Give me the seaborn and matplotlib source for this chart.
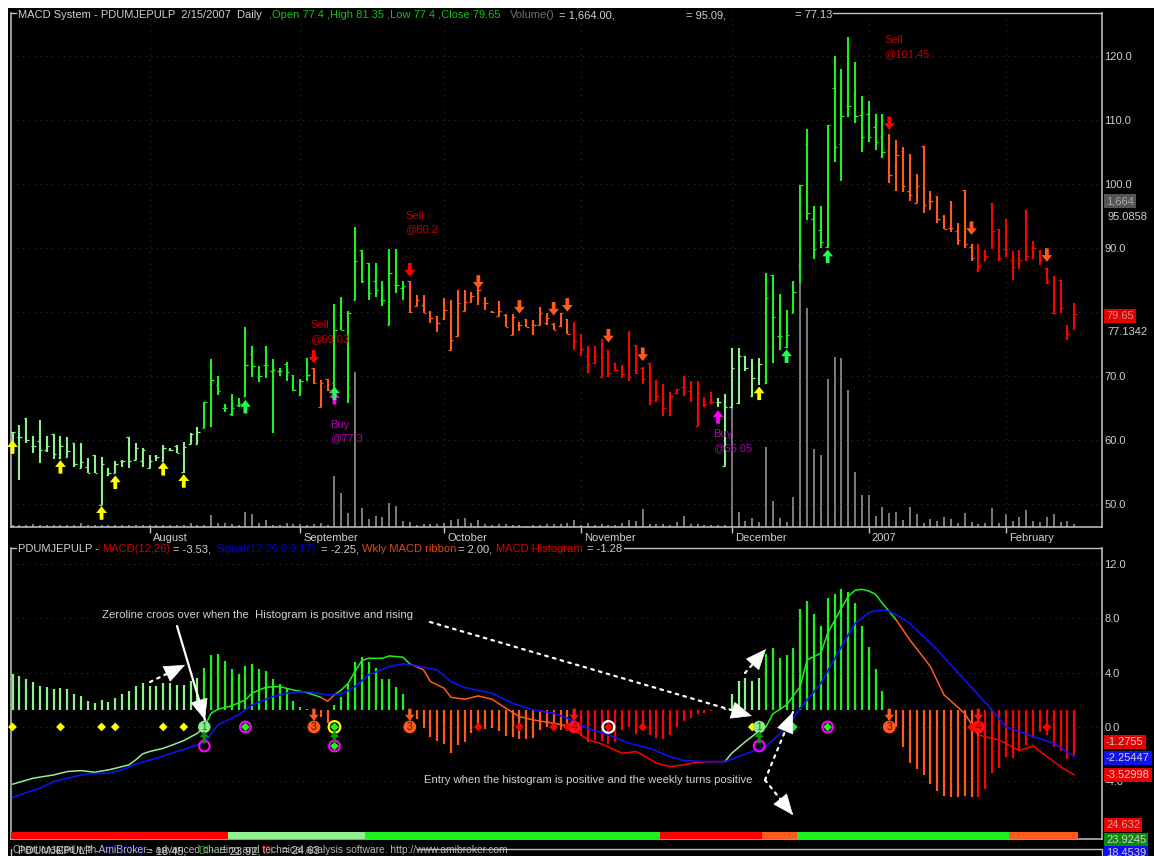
import numpy as np
import pandas as pd
import matplotlib
matplotlib.use("Agg")
import matplotlib.pyplot as plt
import seaborn as sns
from matplotlib.lines import Line2D
from matplotlib.patches import Rectangle
from matplotlib.path import Path

W, H = 1154, 856

# price bars, one per trading day
highs = [61.3,62.3,63.5,60.6,63.2,60.7,60.9,60.6,60.5,59.5,
         59.6,57.2,57.7,57.3,55.7,56.7,56.9,60.4,59.6,58.7,
         57.7,57.7,59.3,58.7,59.2,59.7,61.1,62.1,66.0,72.7,
         70.0,65.6,67.2,66.5,77.6,74.7,71.5,74.7,72.7,71.3,
         72.2,70.1,69.5,72.8,71.2,69.3,69.6,81.3,82.4,80.2,
         93.3,89.7,87.7,87.7,84.8,89.8,89.8,84.8,84.9,82.6,
         82.6,80.1,79.4,82.2,81.8,83.5,83.5,83.2,84.3,82.4,
         80.2,81.7,79.7,79.7,78.5,78.9,78.8,80.8,79.8,78.3,
         79.8,78.9,78.5,76.6,74.7,74.7,75.8,74.1,72.1,71.7,
         77.1,74.8,71.4,72.0,69.4,68.8,67.5,68.0,70.0,69.2,
         69.2,66.7,67.5,66.5,67.2,74.3,74.3,73.2,72.7,72.8,
         86.1,85.8,82.8,80.3,84.8,99.8,108.6,96.5,96.6,109.2,
         120.0,118.0,122.9,119.0,113.7,112.9,111.0,111.0,107.8,106.8,
         105.8,104.7,101.5,106.0,98.9,98.2,95.1,97.3,93.9,99.0,
         90.7,90.7,89.7,97.0,92.9,94.5,89.6,89.7,96.0,91.1,
         89.7,86.8,85.7,85.0,77.9,81.35]
lows = [57.9,53.8,59.6,58.0,56.4,58.2,57.0,57.1,57.3,55.8,
        55.6,54.8,54.9,49.9,54.4,54.8,55.8,55.7,56.9,55.8,
        55.6,56.8,56.7,58.3,57.9,54.9,59.4,59.4,61.9,62.1,
        67.0,64.4,63.8,65.2,66.7,69.9,69.0,69.7,61.1,70.0,
        69.2,67.7,67.0,69.2,68.8,65.1,67.7,68.1,77.2,65.8,
        81.8,84.5,81.8,82.3,80.9,78.0,83.0,81.9,79.9,80.9,
        79.9,78.3,76.8,78.8,74.1,76.1,80.1,81.4,81.1,80.3,
        79.9,79.3,77.6,76.4,77.0,77.6,76.4,78.0,78.0,77.2,
        77.7,76.5,74.0,73.3,70.5,72.1,69.8,69.9,70.8,69.9,
        69.2,70.3,68.8,65.5,66.0,63.8,63.8,67.2,66.8,66.0,
        62.2,65.2,65.7,65.2,55.9,65.0,65.7,70.8,66.7,68.6,
        68.8,72.0,74.1,74.4,79.9,84.5,94.3,88.3,90.0,90.0,
        103.4,100.5,110.5,109.5,105.0,106.5,105.3,104.0,100.2,98.9,
        98.7,97.3,97.0,95.5,96.0,93.9,92.9,92.5,90.5,90.0,
        87.9,86.3,87.9,89.9,87.9,88.6,85.0,86.7,87.9,88.3,
        87.3,84.4,79.9,79.8,75.7,77.4]
opens = [61.3,60.5,63.5,59.1,59.8,58.4,60.9,57.2,57.4,59.5,
         55.7,55.8,57.7,49.9,54.6,54.9,56.8,60.4,56.9,56.8,
         55.7,57.5,56.8,58.5,59.1,55.0,59.4,59.4,61.9,68.8,
         68.6,65.0,64.0,65.4,66.8,73.4,69.9,71.7,70.8,70.8,
         71.8,70.1,67.1,72.8,71.2,65.2,69.5,68.9,79.6,79.8,
         81.9,89.7,87.7,84.9,81.9,78.0,84.2,83.8,84.9,81.0,
         81.1,80.0,79.4,78.9,74.1,76.2,80.2,81.5,83.5,81.4,
         80.2,79.4,79.6,76.4,78.0,78.9,78.0,78.0,78.3,78.1,
         77.8,78.9,76.7,73.3,73.2,72.1,69.9,74.1,72.0,69.9,
         69.8,74.8,71.3,72.0,66.2,66.9,63.9,67.3,68.3,67.6,
         62.2,66.1,66.0,65.9,56.0,65.1,65.8,73.1,66.8,69.7,
         68.9,85.8,76.3,74.6,79.9,87.3,106.3,94.6,92.8,90.1,
         115.0,106.2,112.2,114.0,110.8,111.0,108.9,107.4,105.3,102.8,
         105.2,98.9,97.1,106.0,97.3,98.2,95.0,93.2,92.7,99.0,
         90.1,86.5,88.0,97.0,92.9,89.8,88.1,89.7,96.0,90.0,
         89.6,86.8,79.9,85.0,77.9,77.4]
closes = [61.2,60.5,60.0,59.1,58.4,59.0,57.8,59.0,58.3,56.3,
          56.5,54.9,54.9,56.2,54.8,56.3,56.8,56.8,58.7,58.4,
          56.8,57.4,58.8,58.5,57.9,58.9,60.9,61.3,66.0,69.3,
          67.6,65.0,65.0,65.6,71.7,71.6,70.0,71.7,71.0,70.8,
          70.7,67.8,69.2,70.2,68.9,68.9,67.8,77.2,77.2,79.8,
          88.0,84.9,83.0,83.5,81.9,86.1,84.2,84.0,80.0,81.9,
          79.9,79.0,78.3,80.3,75.7,81.4,81.6,82.5,83.5,81.4,
          80.0,80.1,77.7,79.2,78.0,77.7,78.0,79.9,79.0,77.2,
          79.8,76.6,75.4,74.2,71.9,73.1,72.9,70.4,70.9,70.3,
          69.8,70.4,69.6,66.2,66.9,65.0,66.8,68.0,68.3,66.5,
          67.3,65.6,66.0,65.9,65.2,71.3,73.2,71.2,69.7,71.8,
          82.2,79.2,76.3,76.4,83.1,99.8,95.4,89.8,91.0,109.2,
          105.8,110.6,112.2,110.6,107.3,107.4,106.5,105.0,101.4,104.5,
          99.7,98.3,99.7,96.7,97.3,94.6,93.0,93.2,91.2,90.6,
          88.5,87.2,88.7,92.6,88.5,89.9,87.0,88.1,88.7,90.0,
          88.1,84.7,79.9,80.7,76.5,79.65]
volume = [1,1,1,2,1,1,1,1,1,1,3,1,1,1,1,1,1,1,1,1,1,1,1,1,1,1,3,1,1,
          11,3,3,2,1,14,12,3,6,1,1,
          3,2,2,1,2,3,1,50,33,13,154,18,7,10,9,23,20,5,4,
          1,2,2,2,3,6,7,8,3,6,2,1,2,2,1,1,0,1,1,2,2,
          2,3,6,1,3,1,2,1,1,3,6,5,17,2,2,2,1,4,10,2,2,1,1,1,1,
          119,14,5,8,4,79,25,8,4,29,257,218,77,71,147,169,168,136,54,31,
          31,10,19,13,14,6,19,12,3,7,5,9,7,3,13,4,2,3,18,3,12,5,9,16,5,
          4,9,12,4,5,1.7]
histogram = [1.03,.97,.89,.8,.69,.66,.6,.63,.6,.46,.4,.26,.2,.29,.23,.34,.46,.54,.69,.77,
             .69,.69,.77,.77,.71,.71,.83,.91,1.2,1.57,1.6,1.4,1.17,1.03,1.26,1.31,1.17,1.11,.89,.74,
             .6,.26,.09,.03,-.29,-.2,-.37,.14,.37,.74,1.37,1.51,1.37,1.2,.89,.89,.66,.46,
             -.29,-.26,-.51,-.77,-.89,-.97,-1.23,-1.0,-.91,-.66,-.46,-.54,-.51,-.6,-.74,-.77,-.83,-.83,-.8,
             -.57,-.49,-.57,-.57,-.51,-.57,-.74,-.91,-.86,-.89,-.97,-.91,-.57,-.49,-.69,-.54,-.71,-.8,-.83,
             -.71,-.49,-.31,-.23,-.11,-.09,-.03,0,.03,.46,.83,.91,.83,.91,1.6,1.77,1.49,1.57,1.77,
             2.89,3.11,2.74,2.4,3.2,3.31,3.46,3.37,3.06,2.4,1.8,1.17,.54,
             -.29,-.49,-1.06,-1.51,-1.69,-1.86,-2.11,-2.31,-2.46,-2.49,-2.49,-2.46,-2.49,-2.49,-2.26,
             -1.8,-1.66,-1.34,-1.37,-1.17,-1.0,-.8,-.63,-.71,-1.06,-1.17,-1.4,-1.28]

# the two MACD lines, read at the bars named in the *_bar lists
macd_bar = [0,3,6,8,10,12,14,15,17,18,19,20,22,24,25,27,28,29,30,32,34,35,37,39,41,43,45,46,47,48,
            49,50,51,52,54,55,57,58,60,61,63,64,66,68,70,72,74,76,79,81,82,84,86,89,91,92,94,96,98,100,
            102,104,105,107,109,110,111,113,115,116,118,119,121,122,123,124,125,126,127,129,131,134,136,139,141,144,147,149,151,153,155]
macd_val = [-4.21,-3.77,-3.53,-3.28,-3.21,-3.33,-3.16,-3.04,-2.79,-2.42,-1.98,-1.81,-1.57,-1.2,-1.0,-.46,0,1.01,1.3,1.55,
            1.99,2.5,2.92,2.97,2.72,2.53,2.18,1.89,2.36,2.72,3.21,4.07,4.88,5.05,5.05,5.22,5.13,4.64,4.2,3.34,
            2.85,2.18,2.04,2.28,2.04,1.38,.76,.52,.27,.08,-.22,-.95,-1.25,-1.93,-1.81,-2.06,-2.67,-2.91,-2.79,-2.6,
            -2.55,-2.55,-1.93,-1.08,-.3,.02,.96,1.62,2.97,4.93,5.42,6.89,8.73,9.6,10.05,10.12,10.0,9.75,9.09,7.87,
            6.4,4.44,2.35,1.0,-.59,-.96,-1.74,-1.4,-2.18,-2.92,-3.53]
signal_bar = [0,2,4,6,9,11,14,16,18,21,24,28,30,33,35,38,40,43,46,48,50,52,55,57,59,62,64,66,70,73,76,79,81,84,87,
              90,93,96,98,101,104,110,113,115,118,121,123,125,126,127,128,129,131,135,139,143,145,149,152,155]
signal_val = [-5.19,-4.83,-4.51,-4.02,-3.65,-3.45,-3.4,-3.16,-2.72,-2.3,-1.81,-1.15,.15,.89,1.62,2.23,2.48,2.6,2.36,2.4,
              2.97,3.83,4.44,4.64,4.49,4.19,3.34,2.9,2.48,1.74,1.25,1.01,.64,-.1,-.59,-1.2,-1.57,-2.18,-2.47,-2.55,
              -2.55,-1.44,-.02,1.38,3.21,5.9,7.62,8.4,8.55,8.6,8.5,8.25,7.62,5.66,3.46,1.25,.02,-.71,-1.2,-2.18]

# colour regimes as (colour name, number of bars)
bar_regimes = [("light",28),("green",16),("orange",3),("green",11),("orange",24),("red",21),
               ("light",7),("green",18),("orange",13),("red",15)]
ribbon_regimes = [("red",32),("light",20),("green",43),("red",15),("orange",5),("green",31),("orange",10)]

month_bars = [20,42,63,83,105,125,145]
month_names = ["August","September","October","November","December","2007","February"]

price_ticks = [120,110,100,90,80,70,60,50]
price_tick_labels = ["120.0","110.0","100.0","90.0","","70.0","60.0","50.0"]
macd_ticks = [12,8,4,0,-4]
macd_tick_labels = ["12.0","8.0","4.0","0.0","-4.0"]

# signal arrows on the price pane
yellow_up_bar, yellow_up_price = [0,7,13,15,22,25,109], [58.9,55.8,48.6,53.4,55.5,53.6,67.3]
green_up_bar, green_up_price = [34,47,113,119], [65.2,67.3,73.1,88.7]
magenta_up_bar, magenta_up_price = [47,103], [66.6,63.6]
red_down_bar, red_down_price = [44,58,128], [73.0,86.6,109.5]
orange_down_bar, orange_down_price = [68,74,79,81,87,92,140,151], [84.7,80.8,80.5,81.1,76.3,73.4,93.1,88.9]

# markers on the MACD pane
yellow_dots = [0,7,13,15,22,25,108]
green_dots = [34,47,114,119]
red_dots = [68,74,79,81,87,92,140,151]
magenta_zero = [34,119]
magenta_low = [28,47,109]
entry_circles = [28,109]
yellow_ring = [47]
white_ring = [87]
exit3_bars = [44,58,128]
exit4_bars = [82,141]

COLORS = {"light":"#90f090","green":"#1ff01f","orange":"#ff5a1e","red":"#ff0000"}
FRAME = "#c4c4c4"
TEXT = "#d0d0d0"

def expand(regimes):
    out = []
    for name, n in regimes:
        out += [COLORS[name]] * n
    return out

bar_colors = expand(bar_regimes)
ribbon_colors = expand(ribbon_regimes)

df = pd.DataFrame({"open":opens,"high":highs,"low":lows,"close":closes,"volume":volume,
                   "hist":histogram,"color":bar_colors,"ribbon":ribbon_colors})
df["bar"] = df.index

sns.set_theme(style="dark")
plt.rcParams["font.family"] = "Liberation Sans"
plt.rcParams["font.size"] = 8

fig = plt.figure(figsize=(W/100, H/100), dpi=100, facecolor="white")
fig.add_artist(Rectangle((8/W,0),(W-8)/W,(H-8)/H,transform=fig.transFigure,fc="black",ec="none",zorder=-1))

def rect(x0, y0, x1, y1):
    return [x0/W, 1-y1/H, (x1-x0)/W, (y1-y0)/H]

def label(x, y, s, color=TEXT, **kw):
    kw.setdefault("fontsize", 8)
    return fig.text(x/W, 1-y/H, s, color=color, va="center", ha="left", **kw)

def box(x, y, s, bg, color=TEXT):
    return label(x, y, s, color, bbox=dict(fc=bg, ec="none", pad=1.6), zorder=6)

def rule(x0, y0, x1, y1, color=FRAME, lw=1.0):
    fig.add_artist(Line2D([x0/W,x1/W],[1-y0/H,1-y1/H],color=color,lw=lw,zorder=5))

BAR_XLIM = (-0.22, 159.05)
up = Path([(-.28,-1),(.28,-1),(.28,0),(.8,0),(0,1),(-.8,0),(-.28,0),(-.28,-1)], closed=True)
down = Path([(-.28,1),(.28,1),(.28,0),(.8,0),(0,-1),(-.8,0),(-.28,0),(-.28,1)], closed=True)

def style_pane(ax, ylim, ticks, tick_labels):
    ax.set_facecolor("none")
    ax.set_xlim(*BAR_XLIM)
    ax.set_ylim(*ylim)
    ax.yaxis.tick_right()
    ax.set_yticks(ticks, tick_labels)
    ax.set_xticks(month_bars, [""]*len(month_bars))
    ax.tick_params(axis="y", length=0, pad=1.8, labelcolor=TEXT, labelsize=8)
    ax.tick_params(axis="x", length=4, width=1, color=FRAME, direction="out", bottom=True)
    ax.grid(True, color="#4a4a4a", lw=0.6, ls=(0,(1,6)))
    ax.set_axisbelow(True)
    ax.set_xlabel("")
    ax.set_ylabel("")
    for side, spine in ax.spines.items():
        spine.set_color(FRAME)
        spine.set_linewidth(1.1)
    ax.spines["top"].set_visible(False)

# ---- price pane
vol_ax = fig.add_axes(rect(11,13,1102,527))
vol_ax.set_xlim(*BAR_XLIM)
vol_ax.set_ylim(-1.5,512.5)
vol_ax.axis("off")
vol_ax.vlines(df["bar"], -1.5, df["volume"], color="#7c7c7c", lw=1.4)

ax1 = fig.add_axes(rect(11,13,1102,527))
style_pane(ax1, (46.41,126.72), price_ticks, price_tick_labels)
ax1.vlines(df["bar"], df["low"], df["high"], colors=df["color"], lw=1.5)
ax1.hlines(df["open"], df["bar"]-.36, df["bar"], colors=df["color"], lw=0.9)
ax1.hlines(df["close"], df["bar"], df["bar"]+.36, colors=df["color"], lw=0.9)

def arrows(ax, x, y, color, marker, s=95, z=4):
    sns.scatterplot(x=x, y=y, ax=ax, color=color, marker=marker, s=s, edgecolor="none",
                    legend=False, zorder=z, clip_on=False)

arrows(ax1, magenta_up_bar, magenta_up_price, "#ff00ff", up)
arrows(ax1, yellow_up_bar, yellow_up_price, "#ffff00", up)
arrows(ax1, green_up_bar, green_up_price, "#1fff4f", up, z=5)
arrows(ax1, red_down_bar, red_down_price, "#ff0000", down)
arrows(ax1, orange_down_bar, orange_down_price, "#ff5a1e", down)
ax1.set_xlabel("")
ax1.set_ylabel("")

for b, name in zip(month_bars, month_names):
    ax1.annotate(name, (b,0), xycoords=("data","axes fraction"), xytext=(2.2,-8),
                 textcoords="offset points", color=TEXT, va="center", ha="left", fontsize=8, annotation_clip=False)

for x, y, s, c in [(310,325,"Sell","#c00000"),(310,339,"@69.03","#c00000"),
                   (405,216,"Sell","#c00000"),(405,229,"@80.2","#c00000"),
                   (884,40,"Sell","#c00000"),(884,54,"@101.45","#c00000"),
                   (330,425,"Buy","#b000b0"),(330,438,"@77.3","#b000b0"),
                   (713,434,"Buy","#b000b0"),(713,448,"@66.05","#b000b0")]:
    label(x, y, s, c)

# header of the price pane
label(18,15,"MACD System - PDUMJEPULP  2/15/2007  Daily",TEXT)
label(269,15,",Open 77.4 ,High 81.35 ,Low 77.4 ,Close 79.65","#16c016")
label(510,15,"Volume()","#707070")
label(559,15,"= 1,664.00,",TEXT)
label(686,15,"= 95.09,",TEXT)
label(795,15,"= 77.13",TEXT)
rule(11,13,16,13)
rule(833,13,1102,13)

box(1106,201,"1,664","#555555","#a8a8a8")
label(1107,217,"95.0858")
box(1106,316,"79.65","#e00000","#d09090")
label(1107,332,"77.1342")

# ---- MACD pane
hist_ax = fig.add_axes(rect(11,548,1102,839))
hist_ax.set_xlim(*BAR_XLIM)
hist_ax.set_ylim(-129/35,162/35)
hist_ax.axis("off")
hist_ax.vlines(df["bar"], 0, df["hist"], colors=df["color"], lw=1.6)

ax2 = fig.add_axes(rect(11,548,1102,839))
style_pane(ax2, (-8.24,13.16), macd_ticks, macd_tick_labels)
ax2.grid(False, axis="x")
ax2.tick_params(axis="x", length=0)

ax2.bar(df["bar"], 0.515, bottom=-8.24, width=1.03, color=df["ribbon"], linewidth=0, zorder=3)

# MACD is drawn piece by piece, in the colour of the bars it passes
macd_colors = [bar_colors[b] for b in macd_bar]
start = 0
for i in range(1, len(macd_bar)+1):
    if i == len(macd_bar) or macd_colors[i] != macd_colors[start]:
        end = min(i, len(macd_bar)-1)
        sns.lineplot(x=macd_bar[start:end+1], y=macd_val[start:end+1], ax=ax2, color=macd_colors[start],
                     lw=1.1, errorbar=None, legend=False, zorder=3)
        start = i
sns.lineplot(x=signal_bar, y=signal_val, ax=ax2, color="#0a14f0", lw=1.2, errorbar=None, legend=False, zorder=4)
ax2.set_xlabel("")
ax2.set_ylabel("")

def dots(bars, level, color, marker="D", s=22, z=6, **kw):
    kw.setdefault("edgecolor", "none")
    sns.scatterplot(x=bars, y=[level]*len(bars), ax=ax2, color=color, marker=marker, s=s,
                    legend=False, zorder=z, clip_on=False, **kw)

LOW = -1.4
dots(yellow_dots, 0, "#ffff00", s=20)
dots(entry_circles, 0, "#8eea8e", marker="o", s=80)
dots(magenta_zero, 0, "none", marker="o", s=60, edgecolor="#ff00ff", linewidth=1.5, z=6)
dots(magenta_low, LOW, "none", marker="o", s=60, edgecolor="#ff00ff", linewidth=1.5, z=6)
dots(yellow_ring, 0, "none", marker="o", s=70, edgecolor="#ffff00", linewidth=1.6, z=6)
dots(white_ring, 0, "none", marker="o", s=70, edgecolor="#ffffff", linewidth=1.6, z=6)
dots(green_dots, 0, "#1ff01f", s=20, z=7)
dots([47], LOW, "#1ff01f", s=20, z=7)
dots(red_dots, 0, "#ff0000", s=20, z=7)
dots(exit3_bars, 0, "#ff5a1e", marker="o", s=85)
dots(exit4_bars, 0, "#ff1010", marker="o", s=85)

arrows(ax2, entry_circles+yellow_ring, [-0.75]*3, "#0d8a0d", up, s=75, z=8)
arrows(ax2, exit3_bars, [0.9]*3, "#ff5a1e", down, s=75, z=8)
arrows(ax2, exit4_bars, [0.9]*2, "#ff1010", down, s=75, z=8)
for b in entry_circles:
    ax2.text(b, 0, "1", color="#0d7a0d", fontsize=7, ha="center", va="center", zorder=9)
for b in exit3_bars:
    ax2.text(b, 0, "3", color="#4a1000", fontsize=7.5, ha="center", va="center", zorder=9)
for b in exit4_bars:
    ax2.text(b, 0, "4", color="#800000", fontsize=7.5, ha="center", va="center", zorder=9)

# hand-drawn comments on top of the chart
def pix(x, y):
    return (x, H-y)

def note_arrow(x0, y0, x1, y1, dotted=True):
    style = dict(color="white", lw=1.6, shrinkA=0, shrinkB=0)
    if dotted:
        ax2.annotate("", xy=pix(x1,y1), xytext=pix(x0,y0), xycoords="figure pixels", textcoords="figure pixels",
                     arrowprops=dict(arrowstyle="-", linestyle=(0,(1.2,2.4)), **style), zorder=10)
    else:
        ax2.annotate("", xy=pix(x1,y1), xytext=pix(x0,y0), xycoords="figure pixels", textcoords="figure pixels",
                     arrowprops=dict(arrowstyle="-", **style), zorder=10)
    length = np.hypot(x1-x0, y1-y0)
    hx, hy = x1-(x1-x0)*16/length, y1-(y1-y0)*16/length
    ax2.annotate("", xy=pix(x1,y1), xytext=pix(hx,hy), xycoords="figure pixels", textcoords="figure pixels",
                 arrowprops=dict(arrowstyle="-|>,head_length=1.0,head_width=0.42", color="white", lw=0.5,
                                 mutation_scale=14, shrinkA=0, shrinkB=0), zorder=10)

note_arrow(177,626,205,720,dotted=False)
note_arrow(150,682,185,665)
note_arrow(430,622,752,716)
note_arrow(745,673,766,649)
note_arrow(765,780,793,712)
note_arrow(765,780,793,815)

label(102,615,"Zeroline croos over when the  Histogram is positive and rising",TEXT,zorder=11,fontsize=8.2)
label(424,780,"Entry when the histogram is positive and the weekly turns positive",TEXT,zorder=11,fontsize=8.15)

# header of the MACD pane
label(18,549,"PDUMJEPULP -",TEXT)
label(102,549,"MACD(12,26)","#d00000")
label(173,549,"= -3.53,",TEXT)
label(215,549,"Signal(12,26,9,9,17)","#0000d8")
label(321,549,"= -2.25,",TEXT)
label(362,549,"Wkly MACD ribbon","#e04a14")
label(458,549,"= 2.00,",TEXT)
label(496,549,"MACD Histogram","#e00000")
label(587,549,"= -1.28",TEXT)
rule(11,548,16,548)
rule(624,548,1102,548)

box(1106,742,"-1.2755","#e80000")
box(1106,758,"-2.25447","#1010f0")
box(1106,775,"-3.52998","#e80000")
box(1106,825,"24.632","#e80000","#e0a0a0")
box(1106,840,"23.9245","#0a8a0a")
box(1106,853,"18.4539","#1010f0")

# third pane, only its header is in view
rule(417,849,1102,849)
rule(11,849,11,856)
rule(1102,849,1102,856)
label(18,851,"PDUMJEPULP -",TEXT)
label(102,851,"ADX(14)","#1010d0")
label(146,851,"= 18.45,",TEXT)
label(198,851,"DI+","#0a9a0a")
label(220,851,"= 23.92,",TEXT)
label(262,851,"DI-","#d00000")
label(282,851,"= 24.63",TEXT)
label(13,850,"Chart created with AmiBroker - advanced charting and technical analysis software. http://www.amibroker.com","#b8b8b8",fontsize=7.4)

fig.savefig("out.png", dpi=100, facecolor="white")
